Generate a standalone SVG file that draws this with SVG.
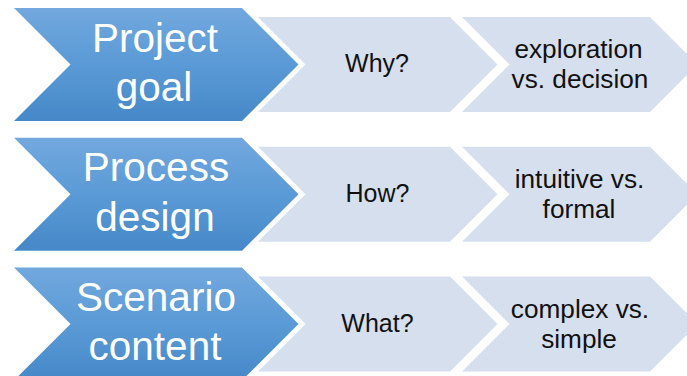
<svg xmlns="http://www.w3.org/2000/svg" xmlns:xlink="http://www.w3.org/1999/xlink" width="687" height="376" viewBox="0 0 687 376">
<defs>
<linearGradient id="blueGrad" x1="0" y1="0" x2="0" y2="1">
<stop offset="0" stop-color="#72a8de"/>
<stop offset="0.5" stop-color="#5a9ad6"/>
<stop offset="1" stop-color="#4688c8"/>
</linearGradient>
<polygon id="bigChev" points="14,8 242,8 298.5,64.5 242,121 14,121 70.5,64.5"/>
<polygon id="chev1" points="258,17 450,17 497.5,64.5 450,112 258,112 305.5,64.5"/>
<polygon id="chev2" points="462,17 650,17 697.5,64.5 650,112 462,112 509.5,64.5"/>
</defs>
<style>
.blue { fill: url(#blueGrad); }
.light { fill: #d5dfee; }
.big { font-family: "Liberation Sans", Arial, sans-serif; font-size: 40.5px; fill: #ffffff; text-anchor: middle; }
.small { font-family: "Liberation Sans", Arial, sans-serif; font-size: 25px; fill: #111111; text-anchor: middle; }
.two { font-size: 26.2px; }
</style>
<rect width="687" height="376" fill="#ffffff"/>
<g id="connectors"></g>

<g id="row1">
<g id="why"><use xlink:href="#chev1" class="light"/><text class="small" x="377" y="72.3">Why?</text></g>
<g id="exploration"><use xlink:href="#chev2" class="light"/><text class="small two" x="578.5" y="58.3">exploration</text><text class="small two" x="580" y="88.3">vs. decision</text></g>
<g id="project-goal"><use xlink:href="#bigChev" class="blue"/><text class="big" x="155" y="51.7">Project</text><text class="big" x="154" y="101">goal</text></g>
</g>

<g id="row2" transform="translate(0,129.7)">
<g id="how"><use xlink:href="#chev1" class="light"/><text class="small" x="377.5" y="72.3">How?</text></g>
<g id="intuitive"><use xlink:href="#chev2" class="light"/><text class="small two" x="579.5" y="58.3">intuitive vs.</text><text class="small two" x="579" y="88.3">formal</text></g>
<g id="process-design"><use xlink:href="#bigChev" class="blue"/><text class="big" x="156" y="51.7">Process</text><text class="big" x="155" y="101">design</text></g>
</g>

<g id="row3" transform="translate(0,259.4)">
<g id="what"><use xlink:href="#chev1" class="light"/><text class="small" x="377.5" y="72.3">What?</text></g>
<g id="complex"><use xlink:href="#chev2" class="light"/><text class="small two" x="580" y="58.3">complex vs.</text><text class="small two" x="579" y="88.3">simple</text></g>
<g id="scenario-content"><use xlink:href="#bigChev" class="blue"/><text class="big" x="156" y="51.7">Scenario</text><text class="big" x="155" y="101">content</text></g>
</g>
</svg>
